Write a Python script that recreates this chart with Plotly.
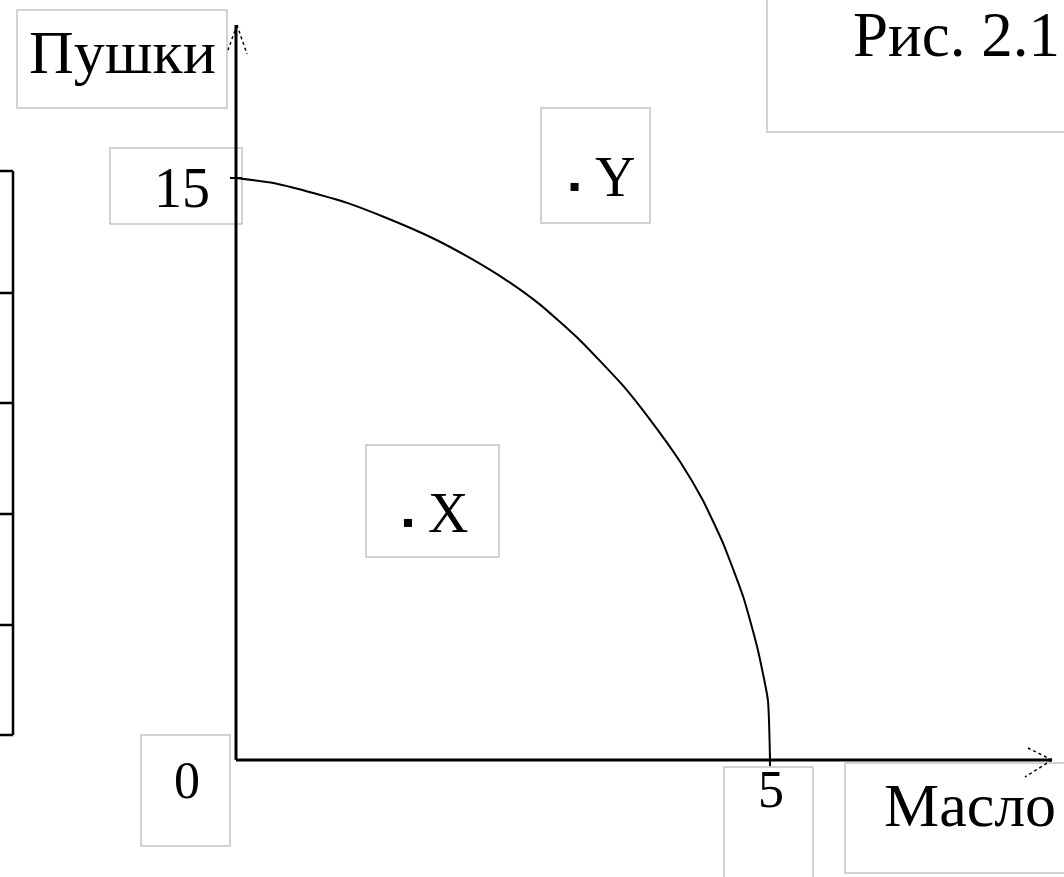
import plotly.graph_objects as go

# production possibilities frontier
butter = [0.0, 0.35, 0.66, 1.04, 1.41, 1.82, 2.19, 2.54, 2.85, 3.22, 3.62, 3.88,
          4.16, 4.37, 4.56, 4.75, 4.88, 4.98, 5.0]
guns = [15.0, 14.87, 14.66, 14.36, 13.97, 13.48, 12.94, 12.35, 11.73, 10.82,
        9.66, 8.76, 7.68, 6.70, 5.59, 4.20, 2.91, 1.55, 0.0]

point_names = ["X", "Y"]
point_butter = [1.61, 3.17]
point_guns = [6.11, 14.77]

x_title = "Масло"
y_title = "Пушки"
caption = "Рис. 2.1"
x_tick = 5
y_tick = 15
origin_label = "0"

W, H = 1064, 877
# pixel anchors of the axes
ox, oy = 236, 760
x_unit = (770 - ox) / 5.0
y_unit = (oy - 178) / 15.0

FONT = "Liberation Serif"
BOX = "#c4c4c4"


def px(x):
    return x / W


def py(y):
    return 1 - y / H


fig = go.Figure()

fig.add_trace(go.Scatter(
    x=butter, y=guns, mode="lines",
    line=dict(color="black", width=2, shape="spline", smoothing=0.5),
    hoverinfo="skip", showlegend=False))

fig.add_trace(go.Scatter(
    x=point_butter, y=point_guns, mode="markers",
    marker=dict(symbol="square", size=8, color="black"),
    hoverinfo="skip", showlegend=False))

shapes = []


def box(x0, y0, x1, y1):
    shapes.append(dict(type="rect", xref="paper", yref="paper",
                       x0=px(x0), x1=px(x1), y0=py(y1), y1=py(y0),
                       line=dict(color=BOX, width=1.5), fillcolor="rgba(0,0,0,0)",
                       layer="below"))


def seg(x0, y0, x1, y1, width=3, dash="solid"):
    shapes.append(dict(type="line", xref="paper", yref="paper",
                       x0=px(x0), x1=px(x1), y0=py(y0), y1=py(y1),
                       line=dict(color="black", width=width, dash=dash)))


# label boxes
box(17, 10, 227, 108)      # Пушки
box(110, 148, 242, 224)    # 15
box(541, 108, 650, 223)    # Y
box(366, 445, 499, 557)    # X
box(141, 735, 230, 846)    # 0
box(724, 767, 813, 890)    # 5
box(845, 763, 1080, 873)   # Масло
box(767, -10, 1080, 132)   # caption

# axes
seg(ox, oy, ox, 25)
seg(ox, oy, 1052, oy)
seg(237, 25, 228, 50, width=1.5, dash="dot")
seg(237, 25, 247, 54, width=1.5, dash="dot")
seg(1052, oy, 1028, 748, width=1.5, dash="dot")
seg(1052, oy, 1025, 777, width=1.5, dash="dot")
# tick marks
seg(230, 178, 242, 178, width=2)
seg(770, 754, 770, 766, width=2)

# table fragment on the left edge
seg(-5, 171, 13, 171, width=2.5)
seg(13, 171, 13, 735, width=2.5)
seg(-5, 735, 13, 735, width=2.5)
for yy in [293, 403, 514, 625]:
    seg(-5, yy, 13, yy, width=2.5)

labels = [
    dict(text=y_title, x=px(122), y=py(52), size=62),
    dict(text=str(y_tick), x=px(182), y=py(188), size=56),
    dict(text=origin_label, x=px(187), y=py(780), size=52),
    dict(text=str(x_tick), x=px(771), y=py(789), size=52),
    dict(text=x_title, x=px(970), y=py(805), size=62),
    dict(text=caption, x=px(956), y=py(35), size=63),
]
annotations = [
    dict(text=a["text"], x=a["x"], y=a["y"], xref="paper", yref="paper",
         xanchor="center", yanchor="middle", showarrow=False,
         font=dict(family=FONT, size=a["size"], color="black"))
    for a in labels
]
# point labels next to the markers
for name, bx, gy in zip(point_names, point_butter, point_guns):
    annotations.append(dict(
        text=name, x=bx, y=gy, xref="x", yref="y",
        xanchor="left", yanchor="middle", xshift=18, yshift=10,
        showarrow=False, font=dict(family=FONT, size=56, color="black")))

fig.update_layout(
    width=W, height=H,
    margin=dict(l=0, r=0, t=0, b=0),
    paper_bgcolor="white", plot_bgcolor="white",
    shapes=shapes,
    annotations=annotations,
    xaxis=dict(range=[-ox / x_unit, (W - ox) / x_unit], visible=False, fixedrange=True),
    yaxis=dict(range=[-(H - oy) / y_unit, oy / y_unit], visible=False, fixedrange=True),
    showlegend=False,
)

fig.write_html("out.html", config={"displayModeBar": False},
               post_script="document.body.style.margin='0';")
